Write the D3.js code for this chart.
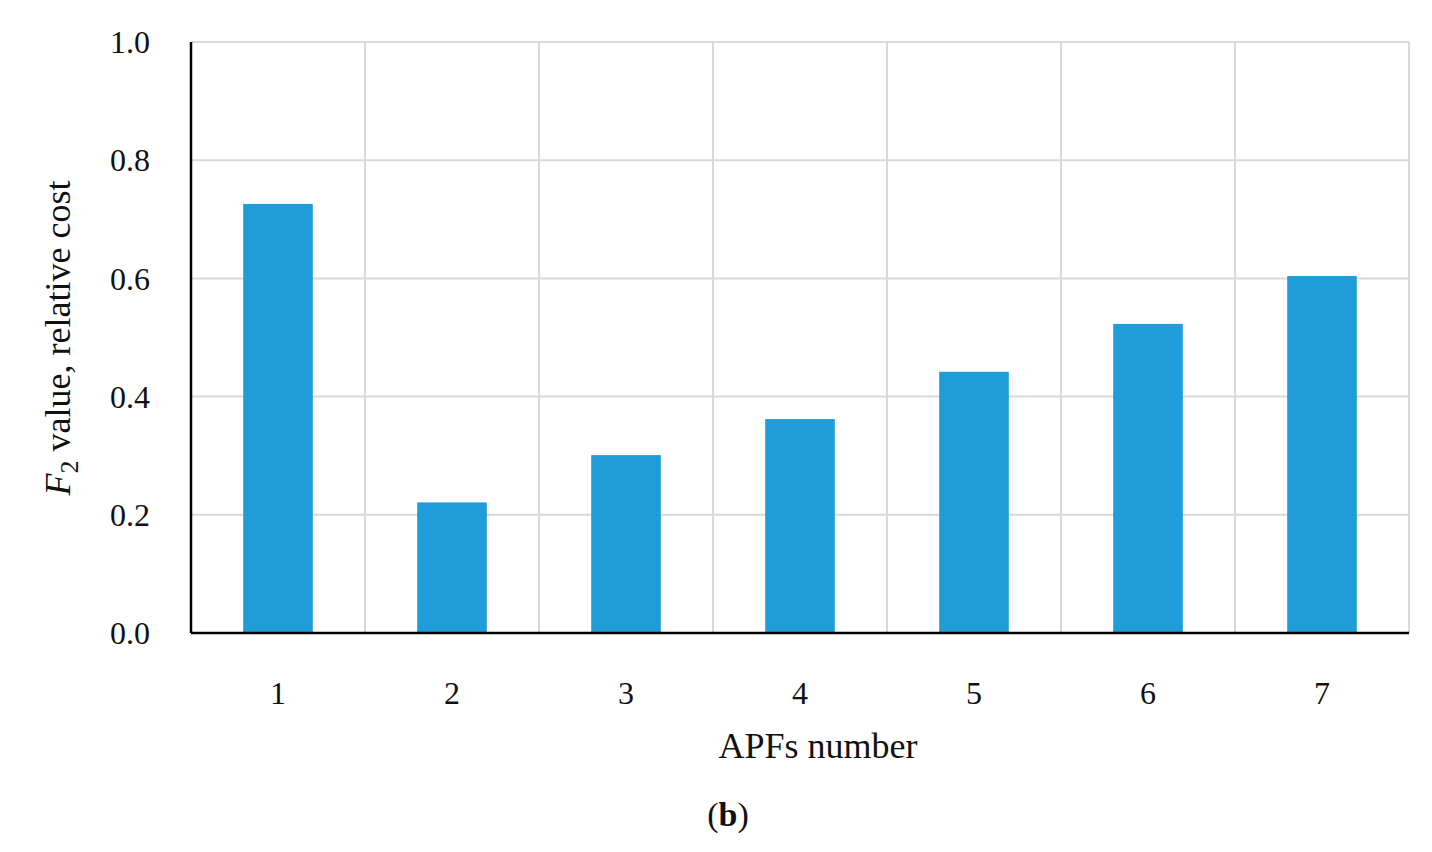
<!DOCTYPE html>
<html><head><meta charset="utf-8">
<script src="https://cdn.jsdelivr.net/npm/d3@7"></script>
<style>body{margin:0;background:#fff}text{font-family:"Liberation Serif",serif;fill:#111}</style>
</head><body><svg id="c" width="1432" height="852"></svg>
<script>
var categories = ["1","2","3","4","5","6","7"],
    values = [0.726, 0.221, 0.301, 0.362, 0.442, 0.523, 0.604],
    yTicks = [0, 0.2, 0.4, 0.6, 0.8, 1.0];

var svg = d3.select("#c"),
    m = {l: 191, r: 1409, t: 42, b: 633};

var x = d3.scaleBand().domain(categories).range([m.l, m.r]).paddingInner(0.6).paddingOuter(0.3);
var y = d3.scaleLinear().domain([0, 1]).range([m.b, m.t]);
var step = x.step(), x0 = m.l;

// grid
svg.append("g").selectAll("line").data(yTicks.slice(1)).join("line")
    .attr("x1", m.l).attr("x2", m.r).attr("y1", y).attr("y2", y)
    .attr("stroke", "#d9d9d9").attr("stroke-width", 2);
svg.append("g").selectAll("line").data(d3.range(1, categories.length + 1)).join("line")
    .attr("x1", d => x0 + d * step).attr("x2", d => x0 + d * step)
    .attr("y1", m.t).attr("y2", m.b)
    .attr("stroke", "#d9d9d9").attr("stroke-width", 2);

svg.append("g").selectAll("rect").data(values).join("rect")
    .attr("x", (d, i) => x(categories[i])).attr("width", x.bandwidth())
    .attr("y", y).attr("height", d => y(0) - y(d))
    .attr("fill", "#1f9dd9");

svg.append("line").attr("x1", m.l).attr("x2", m.l).attr("y1", m.t).attr("y2", m.b)
    .attr("stroke", "#000").attr("stroke-width", 2.5);
svg.append("line").attr("x1", m.l).attr("x2", m.r).attr("y1", m.b).attr("y2", m.b)
    .attr("stroke", "#000").attr("stroke-width", 2.5);

svg.append("g").selectAll("text").data(yTicks).join("text")
    .attr("x", 150).attr("y", y).attr("dy", "0.35em").attr("text-anchor", "end")
    .style("font-size", "32px").text(d => d.toFixed(1));
svg.append("g").selectAll("text").data(categories).join("text")
    .attr("x", d => x(d) + x.bandwidth() / 2).attr("y", 704).attr("text-anchor", "middle")
    .style("font-size", "32px").text(d => d);

svg.append("text").attr("x", 818).attr("y", 758).attr("text-anchor", "middle")
    .style("font-size", "36px").text("APFs number");

var yl = svg.append("text").attr("transform", "translate(70,338) rotate(-90)")
    .attr("text-anchor", "middle").style("font-size", "36px");
yl.append("tspan").style("font-style", "italic").text("F");
yl.append("tspan").attr("dy", 8).style("font-size", "26px").text("2");
yl.append("tspan").attr("dy", -8).text(" value, relative cost");

var b = svg.append("text").attr("x", 728).attr("y", 826).attr("text-anchor", "middle")
    .style("font-size", "34px");
b.append("tspan").text("(");
b.append("tspan").style("font-weight", "bold").text("b");
b.append("tspan").text(")");
</script></body></html>
